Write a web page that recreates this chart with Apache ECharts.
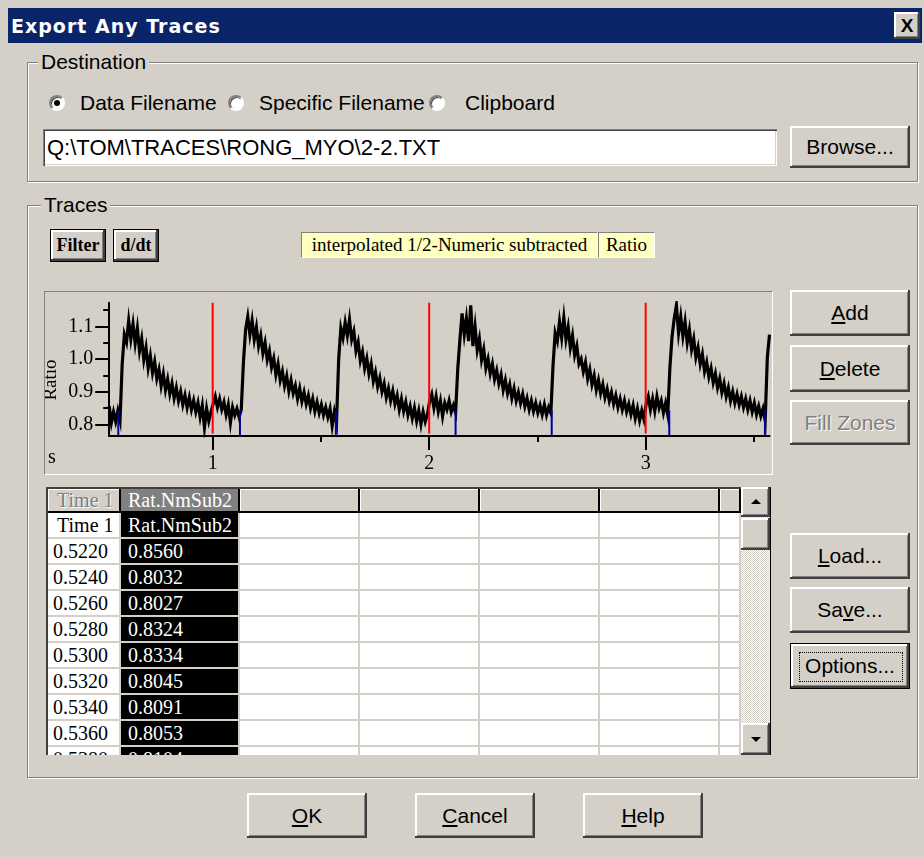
<!DOCTYPE html>
<html>
<head>
<meta charset="utf-8">
<title>Export Any Traces</title>
<script src="https://cdn.jsdelivr.net/npm/echarts@6.0.0/dist/echarts.min.js"></script>
<style>
* { box-sizing: border-box; }
html, body { margin: 0; padding: 0; }
body { width: 924px; height: 857px; position: relative; overflow: hidden; background: #d4d0c8;
  font-family: "Liberation Sans", Arial, sans-serif; font-size: 21px; color: #000; }
.abs { position: absolute; }
.txt { position: absolute; white-space: nowrap; }
.raised { background: #d4d0c8; box-shadow: inset -2px -2px 0 #404040, inset 2px 2px 0 #ffffff, inset -3px -3px 0 #808080; }
.btn { position: absolute; display: flex; align-items: center; justify-content: center; white-space: nowrap; }
.group { position: absolute; border: 1px solid #808080; box-shadow: inset 1px 1px 0 #fff, 1px 1px 0 #fff; }
.glabel { position: absolute; background: #d4d0c8; padding: 0 3px; height: 24px; line-height: 24px; white-space: nowrap; }
.sunken { box-shadow: inset 1px 1px 0 #808080, inset 2px 2px 0 #404040, inset -1px -1px 0 #fff, inset -2px -2px 0 #d4d0c8; }
.radio { position: absolute; width: 16px; height: 16px; border-radius: 50%; background: #fff; border: 2px solid; border-color: #808080 #fff #fff #808080; box-shadow: inset 1px 1px 0 #404040; }
.dot { position: absolute; left: 3px; top: 3px; width: 6px; height: 6px; border-radius: 50%; background: #000; }
.smallbtn { position: absolute; border: 1px solid #000; display: flex; align-items: center; justify-content: center; font-family: "Liberation Serif", serif; font-weight: bold; font-size: 18px; }
.yel { position: absolute; background: #ffffc0; border-top: 1px solid #808080; border-left: 1px solid #808080; border-bottom: 1px solid #fff; border-right: 1px solid #fff; display: flex; align-items: center; justify-content: center; font-family: "Liberation Serif", serif; font-size: 19px; white-space: nowrap; }
.disabled { color: #808080; text-shadow: 1px 1px 0 #fff; }
.cell { position: absolute; height: 24px; line-height: 24px; font-family: "Liberation Serif", serif; font-size: 20px; white-space: nowrap; overflow: hidden; }
.arrow-up { position: absolute; left: 10px; top: 12px; width: 0; height: 0; border-left: 5px solid transparent; border-right: 5px solid transparent; border-bottom: 5px solid #000; }
.arrow-dn { position: absolute; left: 10px; top: 14px; width: 0; height: 0; border-left: 5px solid transparent; border-right: 5px solid transparent; border-top: 5px solid #000; }
</style>
</head>
<body>
<!-- title bar -->
<div class="abs" style="left:8px;top:8px;width:914px;height:35px;background:#0a246a"></div>
<div class="txt" style="left:11px;top:8px;height:36px;line-height:36px;font-family:'DejaVu Sans',sans-serif;font-weight:bold;font-size:19px;letter-spacing:1px;color:#fff">Export Any Traces</div>
<div class="btn raised" style="left:894px;top:12px;width:26px;height:27px;font-weight:bold;font-size:19px">X</div>

<!-- Destination group -->
<div class="group" style="left:27px;top:62px;width:891px;height:120px"></div>
<div class="glabel" style="left:38px;top:50px">Destination</div>
<div class="radio" style="left:49px;top:95px"><div class="dot"></div></div>
<div class="txt" style="left:80px;top:92px;height:22px;line-height:22px">Data Filename</div>
<div class="radio" style="left:228px;top:95px"></div>
<div class="txt" style="left:259px;top:92px;height:22px;line-height:22px">Specific Filename</div>
<div class="radio" style="left:429px;top:95px"></div>
<div class="txt" style="left:465px;top:92px;height:22px;line-height:22px">Clipboard</div>
<div class="abs sunken" style="left:43px;top:129px;width:734px;height:37px;background:#fff;padding-left:4px;line-height:37px;font-size:22px;white-space:nowrap">Q:\TOM\TRACES\RONG_MYO\2-2.TXT</div>
<div class="btn raised" style="left:790px;top:126px;width:120px;height:42px">Browse...</div>

<!-- Traces group -->
<div class="group" style="left:27px;top:205px;width:891px;height:573px"></div>
<div class="glabel" style="left:41px;top:193px">Traces</div>
<div class="smallbtn raised" style="left:50px;top:229px;width:56px;height:33px">Filter</div>
<div class="smallbtn raised" style="left:113px;top:229px;width:46px;height:33px">d/dt</div>
<div class="yel" style="left:301px;top:232px;width:297px;height:26px">interpolated 1/2-Numeric subtracted</div>
<div class="yel" style="left:598px;top:232px;width:57px;height:26px">Ratio</div>

<!-- plot panel -->
<div class="abs" style="left:44px;top:291px;width:729px;height:184px;border-top:1px solid #808080;border-left:1px solid #808080;border-bottom:1px solid #fff;border-right:1px solid #fff"></div>
<div id="chart" class="abs" style="left:45px;top:292px;width:727px;height:182px"></div>

<!-- right buttons -->
<div class="btn raised" style="left:790px;top:290px;width:120px;height:46px"><span><u>A</u>dd</span></div>
<div class="btn raised" style="left:790px;top:345px;width:120px;height:47px"><span><u>D</u>elete</span></div>
<div class="btn raised disabled" style="left:790px;top:400px;width:120px;height:45px">Fill Zones</div>
<div class="btn raised" style="left:790px;top:533px;width:120px;height:46px"><span><u>L</u>oad...</span></div>
<div class="btn raised" style="left:790px;top:587px;width:120px;height:46px"><span>Sa<u>v</u>e...</span></div>
<div class="btn raised" style="left:790px;top:643px;width:120px;height:46px;border:1px solid #000"><span>Options...</span></div>
<div class="abs" style="left:799px;top:652px;width:104px;height:30px;border:1px dotted #000"></div>

<!-- table -->
<div id="table" class="abs" style="left:46px;top:487px;width:695px;height:268px;border-left:2px solid #404040;border-top:2px solid #404040;background:#d4d0c8;overflow:hidden"></div>
<div id="scroll" class="abs" style="left:741px;top:487px;width:30px;height:268px;background:repeating-conic-gradient(#ffffff 0 25%, #d4d0c8 0 50%) 0 0/2px 2px;border-right:1px solid #000"></div>

<!-- bottom buttons -->
<div class="btn raised" style="left:247px;top:793px;width:120px;height:45px"><span><u>O</u>K</span></div>
<div class="btn raised" style="left:415px;top:793px;width:120px;height:45px"><span><u>C</u>ancel</span></div>
<div class="btn raised" style="left:583px;top:793px;width:120px;height:45px"><span><u>H</u>elp</span></div>

<script>
// ---------- data ----------
// Ratio trace, digitised every 0.01 s, starting at t = 0.522 s
const traceStart = 0.522;
const traceStep = 0.01;
const ratioA = [ // 0.522 – 1.012 s
  0.856, 0.805, 0.838, 0.809, 0.842, 0.812, 0.985, 1.075, 1.052, 1.118,
  1.062, 1.108, 1.048, 1.095, 1.025, 1.062, 0.998, 1.035, 0.972, 1.010,
  0.958, 0.992, 0.940, 0.968, 0.918, 0.955, 0.905, 0.938, 0.893, 0.925,
  0.880, 0.912, 0.872, 0.900, 0.860, 0.889, 0.851, 0.882, 0.845, 0.873,
  0.838, 0.866, 0.822, 0.858, 0.790, 0.848, 0.810, 0.838, 0.862, 0.885
];
const ratioB = [ // 1.022 – 2.012 s
  0.852, 0.878, 0.845, 0.868, 0.830, 0.860, 0.805, 0.852, 0.828, 0.848,
  0.822, 0.845, 0.990, 1.090, 1.130, 1.075, 1.118, 1.060, 1.098, 1.040,
  1.072, 1.018, 1.050, 0.998, 1.025, 0.975, 1.002, 0.952, 0.985, 0.935,
  0.962, 0.918, 0.948, 0.902, 0.935, 0.895, 0.918, 0.878, 0.910, 0.870,
  0.898, 0.862, 0.888, 0.850, 0.878, 0.840, 0.868, 0.835, 0.860, 0.828,
  0.852, 0.822, 0.848, 0.795, 0.838, 0.805, 1.000, 1.095, 1.065, 1.112,
  1.072, 1.121, 1.060, 1.085, 1.025, 1.052, 0.995, 1.022, 0.972, 1.002,
  0.955, 0.985, 0.932, 0.960, 0.915, 0.942, 0.900, 0.925, 0.882, 0.910,
  0.872, 0.902, 0.862, 0.888, 0.845, 0.878, 0.840, 0.868, 0.828, 0.855,
  0.818, 0.850, 0.810, 0.842, 0.800, 0.838, 0.808, 0.830, 0.870, 0.892
];
const ratioC = [ // 2.022 – 3.012 s
  0.850, 0.885, 0.840, 0.872, 0.825, 0.865, 0.845, 0.872, 0.838, 0.858,
  0.835, 0.970, 1.060, 1.140, 1.075, 1.125, 1.055, 1.165, 1.040, 1.100,
  1.028, 1.062, 0.998, 1.030, 0.972, 1.000, 0.955, 0.985, 0.938, 0.965,
  0.925, 0.952, 0.905, 0.935, 0.895, 0.922, 0.880, 0.910, 0.872, 0.898,
  0.865, 0.892, 0.855, 0.880, 0.845, 0.872, 0.840, 0.865, 0.835, 0.858,
  0.830, 0.860, 0.828, 0.852, 0.835, 0.980, 1.080, 1.055, 1.115, 1.065,
  1.127, 1.060, 1.098, 1.035, 1.072, 1.012, 1.040, 0.985, 1.000, 0.962,
  0.990, 0.940, 0.968, 0.922, 0.950, 0.905, 0.935, 0.895, 0.922, 0.882,
  0.908, 0.872, 0.898, 0.862, 0.888, 0.852, 0.878, 0.845, 0.872, 0.838,
  0.862, 0.830, 0.858, 0.818, 0.848, 0.812, 0.842, 0.815, 0.862, 0.885
];
const ratioD = [ // 3.022 – 3.572 s
  0.845, 0.878, 0.840, 0.885, 0.850, 0.872, 0.835, 0.865, 0.830, 0.975,
  1.070, 1.125, 1.165, 1.080, 1.130, 1.070, 1.115, 1.050, 1.090, 1.030,
  1.062, 1.005, 1.035, 0.985, 1.015, 0.962, 0.990, 0.945, 0.972, 0.928,
  0.955, 0.912, 0.940, 0.898, 0.925, 0.885, 0.912, 0.872, 0.900, 0.865,
  0.892, 0.860, 0.885, 0.852, 0.878, 0.845, 0.872, 0.838, 0.865, 0.830,
  0.855, 0.825, 0.848, 0.812, 1.005, 1.075
];
const stimTimes = [1, 2, 3];                                        // red markers (s)
const zoneStarts = [0.564, 1.126, 1.569, 2.122, 2.566, 3.109, 3.551]; // blue markers (s)
const zoneTops = [0.842, 0.842, 0.842, 0.842, 0.842, 0.842, 0.846];
const xMajorTicks = [1, 2, 3];
const xMinorTicks = [1.5, 2.5, 3.5];
const yMajorTicks = [0.8, 0.9, 1.0, 1.1];
const yMinorTicks = [0.85, 0.95, 1.05, 1.15];

// table contents
const colHeads = ['Time 1', 'Rat.NmSub2', '', '', '', '', ''];
const tableTimes = ['0.5220', '0.5240', '0.5260', '0.5280', '0.5300', '0.5320', '0.5340', '0.5360', '0.5380'];
const tableRatios = ['0.8560', '0.8032', '0.8027', '0.8324', '0.8334', '0.8045', '0.8091', '0.8053', '0.8104'];

// ---------- table (HTML) ----------
(function () {
  const tbl = document.getElementById('table');
  const colX = [48, 121, 240, 360, 480, 600, 720, 741];
  const hdrBg = document.createElement('div');
  hdrBg.style.cssText = 'position:absolute;left:0;top:0;width:100%;height:24px;background:#000';
  tbl.appendChild(hdrBg);
  function cell(c, top, text, bg, color, extra) {
    const d = document.createElement('div');
    d.className = 'cell';
    d.style.left = (colX[c] - 48) + 'px';
    d.style.top = top + 'px';
    d.style.width = (colX[c + 1] - colX[c] - 2) + 'px';
    d.style.background = bg;
    d.style.color = color;
    d.style.paddingLeft = (c === 0 ? 5 : 7) + 'px';
    if (extra) d.style.cssText += extra;
    d.textContent = text;
    tbl.appendChild(d);
    return d;
  }
  for (let c = 0; c < 7; c++) {
    if (c === 0) cell(c, 0, colHeads[c], '#d4d0c8', '#808080', 'height:22px;line-height:22px;text-shadow:1px 1px 0 #fff;box-shadow:inset 1px 1px 0 #fff;padding-left:9px');
    else if (c === 1) cell(c, 0, colHeads[c], '#808080', '#fff', 'height:22px;line-height:22px');
    else cell(c, 0, colHeads[c], '#d4d0c8', '#000', 'height:22px;line-height:22px;box-shadow:inset 1px 1px 0 #fff');
  }
  const rows = [['Time 1', 'Rat.NmSub2']].concat(tableTimes.map((t, i) => [t, tableRatios[i]]));
  rows.forEach((r, k) => {
    const top = 24 + 26 * k;
    for (let c = 0; c < 7; c++) {
      if (c === 0) cell(c, top, r[0], '#fff', '#000', k === 0 ? 'padding-left:9px' : '');
      else if (c === 1) cell(c, top, r[1], '#000', '#fff');
      else cell(c, top, '', '#fff', '#000');
    }
  });
  const sc = document.getElementById('scroll');
  sc.innerHTML =
    '<div class="raised" style="position:absolute;left:0;top:0;width:29px;height:30px"><div class="arrow-up"></div></div>' +
    '<div class="raised" style="position:absolute;left:0;top:31px;width:29px;height:32px"></div>' +
    '<div class="raised" style="position:absolute;left:0;top:236px;width:29px;height:32px"><div class="arrow-dn"></div></div>';
})();

// ---------- chart (ECharts) ----------
const ratio = ratioA.concat(ratioB, ratioC, ratioD);
const trace = ratio.map((v, i) => [+(traceStart + i * traceStep).toFixed(3), v]);
const xMin = 0.522, xMax = 3.572, yMin = 0.764, yMax = 1.173;
const serif = '"Liberation Serif", "Times New Roman", serif';

const series = [{
  type: 'line', data: trace, showSymbol: false, symbol: 'none', z: 2,
  lineStyle: { color: '#000', width: 3.2, join: 'miter' }, silent: true
}];
zoneStarts.forEach((t, i) => series.push({
  type: 'line', data: [[t, yMin], [t, zoneTops[i]]], symbol: 'none', z: 3, silent: true,
  lineStyle: { color: '#0000a0', width: 2 }
}));
stimTimes.forEach(t => series.push({
  type: 'line', data: [[t, 0.772], [t, yMax]], symbol: 'none', z: 4, silent: true,
  lineStyle: { color: '#ff0000', width: 2 }
}));

const chart = echarts.init(document.getElementById('chart'), null, { renderer: 'canvas' });
chart.setOption({
  animation: false,
  backgroundColor: 'transparent',
  grid: { left: 64.2, top: 10.7, width: 660.3, height: 134, containLabel: false },
  xAxis: [{
    type: 'value', min: xMin, max: xMax, position: 'bottom',
    axisLine: { show: true, onZero: false, lineStyle: { color: '#000', width: 2 } },
    axisTick: { show: true, customValues: xMajorTicks, length: 14, lineStyle: { color: '#000', width: 2 } },
    axisLabel: { show: true, customValues: xMajorTicks, margin: 18, color: '#000', fontFamily: serif, fontSize: 20, formatter: v => String(v) },
    splitLine: { show: false }
  }, {
    type: 'value', min: xMin, max: xMax, position: 'bottom',
    axisLine: { show: false },
    axisTick: { show: true, customValues: xMinorTicks, length: 6, lineStyle: { color: '#000', width: 2 } },
    axisLabel: { show: false },
    splitLine: { show: false }
  }],
  yAxis: [{
    type: 'value', min: yMin, max: yMax, position: 'left',
    axisLine: { show: true, onZero: false, lineStyle: { color: '#000', width: 2 } },
    axisTick: { show: true, customValues: yMajorTicks, length: 14, lineStyle: { color: '#000', width: 2 } },
    axisLabel: { show: true, customValues: yMajorTicks, margin: 16, color: '#000', fontFamily: serif, fontSize: 20, formatter: v => v.toFixed(1) },
    splitLine: { show: false }
  }, {
    type: 'value', min: yMin, max: yMax, position: 'left', offset: 0,
    axisLine: { show: false },
    axisTick: { show: true, customValues: yMinorTicks, length: 6, lineStyle: { color: '#000', width: 2 } },
    axisLabel: { show: false },
    splitLine: { show: false }
  }],
  graphic: [{
    type: 'text', x: 6.5, y: 88, rotation: Math.PI / 2, silent: true,
    style: { text: 'Ratio', font: '19px ' + serif, fill: '#000', textAlign: 'center', textVerticalAlign: 'middle' }
  }, {
    type: 'text', x: 3, y: 166, silent: true,
    style: { text: 's', font: '20px ' + serif, fill: '#000', textAlign: 'left', textVerticalAlign: 'middle' }
  }],
  series: series
});
</script>
</body>
</html>
